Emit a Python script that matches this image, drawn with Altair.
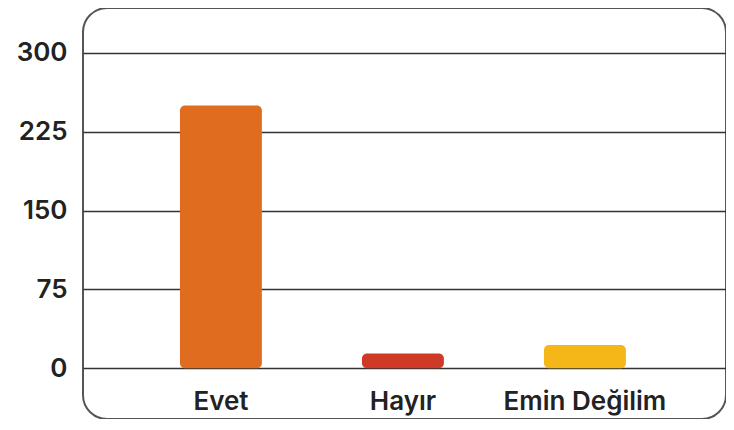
import altair as alt
import pandas as pd

categories = ["Evet", "Hayır", "Emin Değilim"]
values = [250, 14, 22]
colors = ["#E06C20", "#CF3A27", "#F5B618"]
y_ticks = [0, 75, 150, 225, 300]

df = pd.DataFrame({"cat": categories, "val": values, "color": colors})

FONT = "Inter"

bars = alt.Chart(df).mark_bar(cornerRadius=5).encode(
    x=alt.X(
        "cat:N",
        sort=categories,
        title=None,
        scale=alt.Scale(paddingInner=0.55, paddingOuter=0.5415, align=0.492),
        axis=alt.Axis(
            orient="bottom",
            offset=-51,
            domain=False,
            ticks=False,
            grid=False,
            labelAngle=0,
            labelPadding=20,
            labelFont=FONT,
            labelFontSize=26,
            labelFontWeight=600,
            labelColor="#222222",
        ),
    ),
    y=alt.Y(
        "val:Q",
        title=None,
        scale=alt.Scale(domain=[-48.4, 342.7], nice=False, zero=False),
        axis=alt.Axis(
            values=y_ticks,
            domain=False,
            ticks=False,
            grid=True,
            gridColor="#333333",
            gridWidth=1.5,
            gridOpacity=1,
            labelPadding=16,
            labelFont=FONT,
            labelFontSize=26,
            labelFontWeight=600,
            labelColor="#222222",
            minExtent=75,
            maxExtent=75,
        ),
    ),
    y2=alt.datum(0),
    color=alt.Color("color:N", scale=None, legend=None),
)

chart = bars.properties(
    width=643,
    height=411,
    padding={"left": 0, "top": 0, "right": 0, "bottom": 0},
    background="white",
).configure_view(
    stroke="#555555",
    strokeWidth=2,
    cornerRadius=24,
)

chart.save("out.html", embed_options={"renderer": "svg", "actions": False})
